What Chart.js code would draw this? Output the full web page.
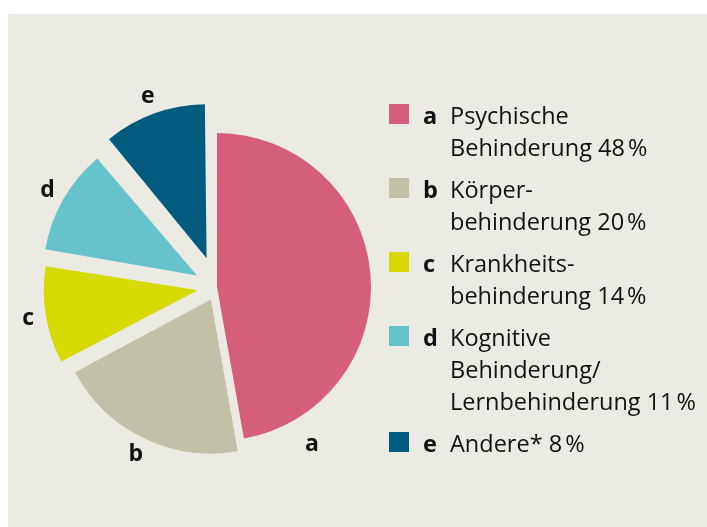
<!DOCTYPE html>
<html lang="de">
<head>
<meta charset="utf-8">
<script src="https://cdn.jsdelivr.net/npm/chart.js@4.4.1/dist/chart.umd.min.js"></script>
<style>
    html, body { margin: 0; padding: 0; background: #fff; }
    body { width: 707px; height: 527px; position: relative; overflow: hidden; font-family: 'Open Sans', sans-serif; color: #111; }
    .panel { position: absolute; left: 8px; top: 14px; right: 0; bottom: 0; background: #ebeae3; }
    .pie-wrap { position: absolute; left: 17px; top: 87px; width: 400px; height: 400px; }
    .legend { position: absolute; left: 389px; top: 99px; }
    .legend-item { display: flex; align-items: flex-start; margin-bottom: 10px; font-size: 23.5px; line-height: 32px; }
    .legend-swatch { width: 20px; height: 20px; margin-top: 5px; flex: none; }
    .legend-key { width: 27px; margin-left: 14px; font-weight: 700; flex: none; }
</style>
</head>
<body>
<div class="panel"></div>
<div class="pie-wrap"><canvas id="pie"></canvas></div>
<div class="legend" id="legend"></div>
<script>
// Slices as drawn in the picture (share of the circle, %)
const keys = ['a', 'b', 'c', 'd', 'e'];
const sliceValues = [47.2, 20, 10.4, 11.3, 11.1];
// Percent shown in the legend text
const legendPct = [48, 20, 14, 11, 8];
const legendText = [
    ['Psychische', 'Behinderung'],
    ['Körper-', 'behinderung'],
    ['Krankheits-', 'behinderung'],
    ['Kognitive', 'Behinderung/', 'Lernbehinderung'],
    ['Andere*'],
];
const colors = ['#d55e7b', '#c2c0a7', '#d6da00', '#66c3cb', '#005b7e'];
// how far each slice is pulled out (px)
const explode = [0, 14, 19.5, 23, 30.5];

const RADIUS = 154;

// legend (html)
document.getElementById('legend').innerHTML = keys.map((k, i) => {
    const lines = legendText[i].slice();
    lines[lines.length - 1] += ' ' + legendPct[i] + '\u202F%';
    return `<div class="legend-item"><span class="legend-swatch" style="background:${colors[i]};"></span>` +
        `<span class="legend-key">${k}</span><span>${lines.join('<br>')}</span></div>`;
}).join('');

// Chart.js grows the radius of pulled-out slices a bit; keep them all the same size
const evenRadius = {
    id: 'evenRadius',
    beforeDatasetDraw(chart, args) {
        args.meta.data.forEach((el) => {
            const t = (el.options.offset || 0) / 4;
            const circ = el.endAngle - el.startAngle;
            const fix = 1 - Math.sin(Math.min(Math.PI, circ));
            el.outerRadius = RADIUS - t * fix;
        });
    },
};

// letters a–e next to the slices
const sliceLetters = {
    id: 'sliceLetters',
    afterDatasetsDraw(chart) {
        const { ctx } = chart;
        const meta = chart.getDatasetMeta(0);
        ctx.save();
        ctx.font = 'bold 23px "Open Sans", sans-serif';
        ctx.fillStyle = '#111';
        ctx.textAlign = 'center';
        ctx.textBaseline = 'middle';
        meta.data.forEach((el, i) => {
            let ang = (el.startAngle + el.endAngle) / 2;
            let dist = RADIUS + explode[i] + 18;
            if (i === 0) { // 'a' sits below the big slice
                ang = el.endAngle - 21 * Math.PI / 180;
                dist = RADIUS + 30;
            }
            ctx.fillText(keys[i], el.x + Math.cos(ang) * dist, el.y + Math.sin(ang) * dist);
        });
        ctx.restore();
    },
};

new Chart(document.getElementById('pie'), {
    type: 'pie',
    data: {
        labels: keys,
        datasets: [{
            data: sliceValues,
            backgroundColor: colors,
            borderWidth: 0,
            offset: explode.map((t) => t * 4),
        }],
    },
    options: {
        responsive: true,
        maintainAspectRatio: false,
        animation: false,
        events: [],
        radius: RADIUS,
        layout: { padding: 0 },
        plugins: { legend: { display: false }, tooltip: { enabled: false } },
    },
    plugins: [evenRadius, sliceLetters],
});
</script>
</body>
</html>
